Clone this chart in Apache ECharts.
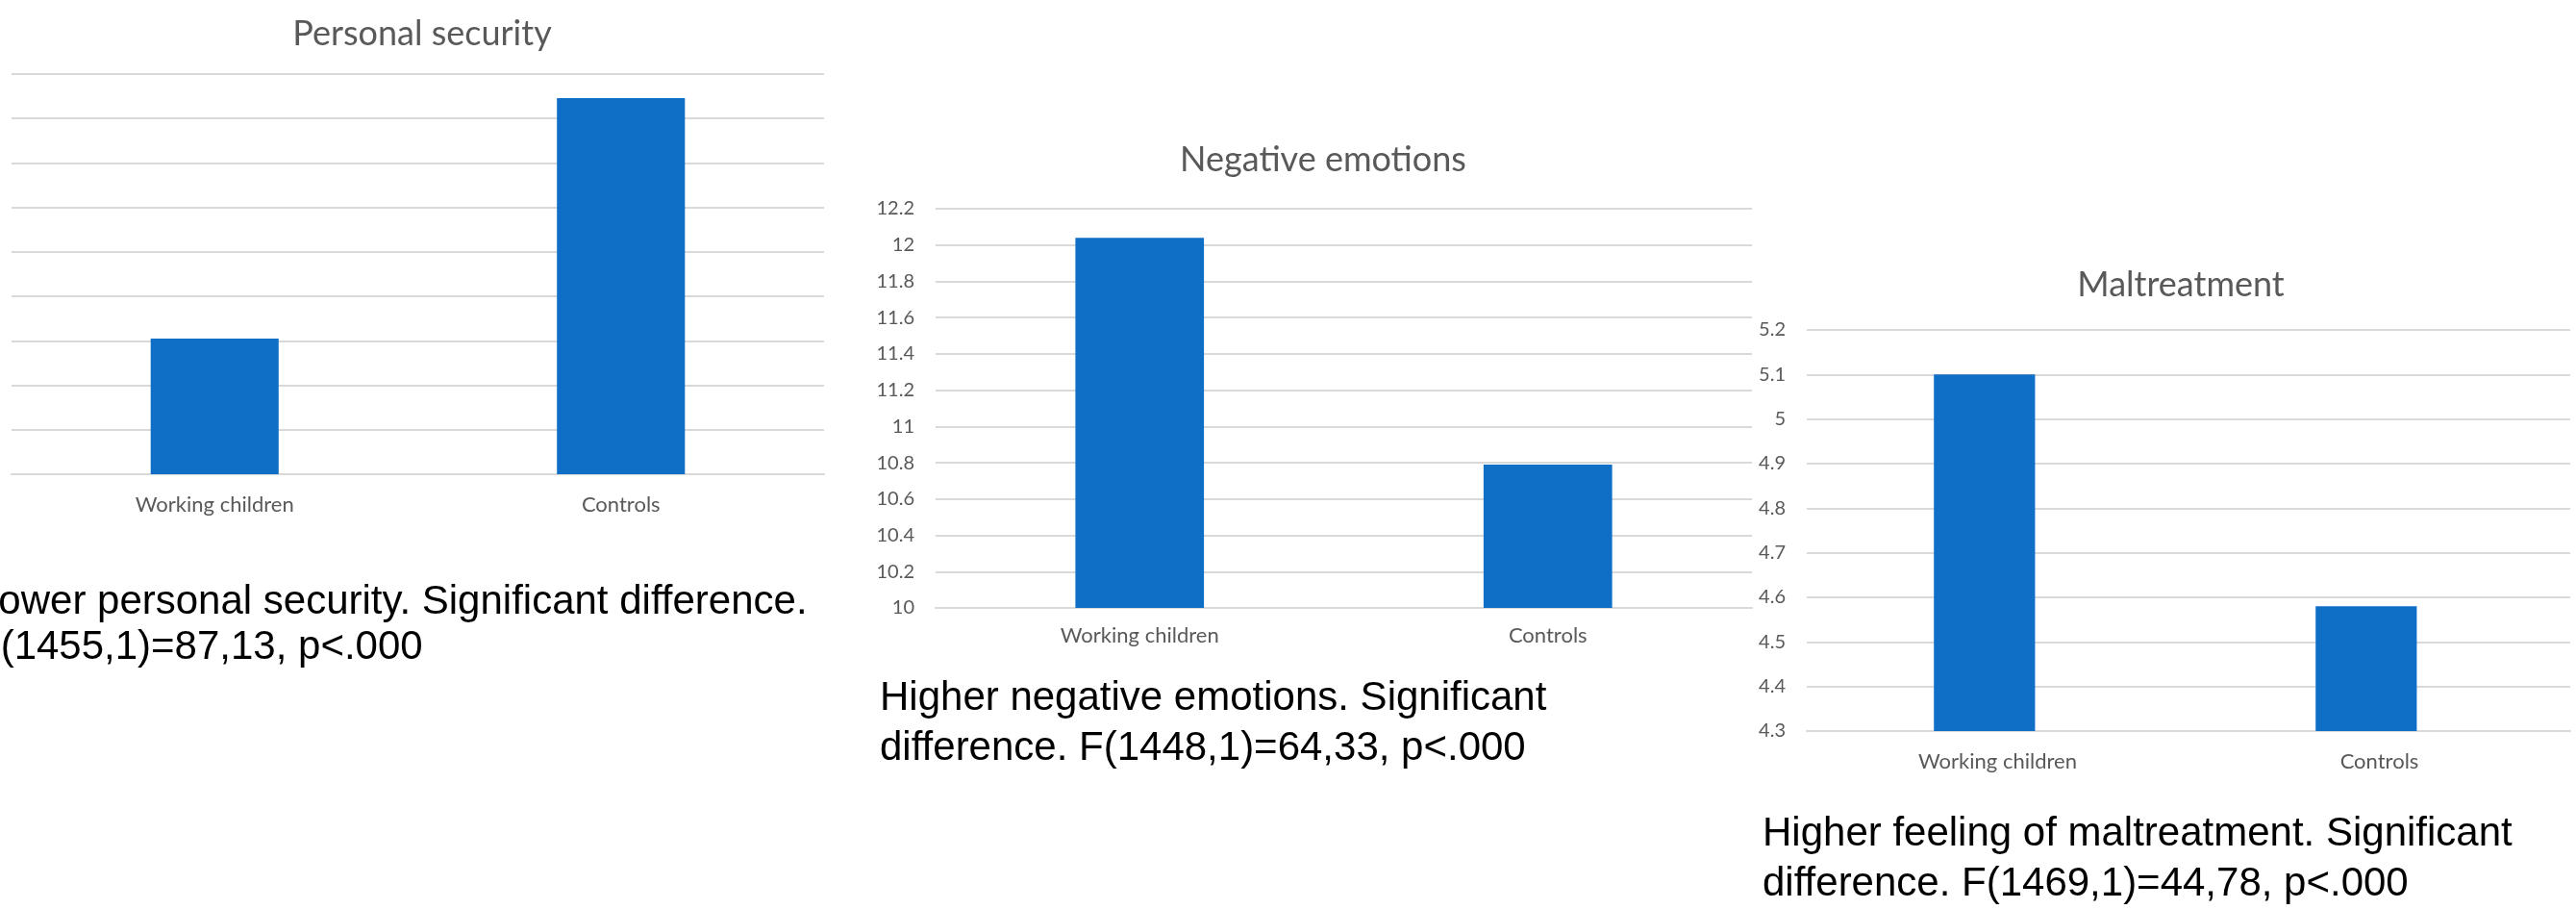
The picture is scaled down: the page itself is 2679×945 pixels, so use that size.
<!DOCTYPE html>
<html>
<head>
<meta charset="utf-8">
<script src="https://cdn.jsdelivr.net/npm/echarts@6/dist/echarts.min.js"></script>
<style>
html,body{margin:0;padding:0;background:#fff;}
#main{width:2679px;height:945px;}
</style>
</head>
<body>
<div id="main"></div>
<script>
// ---- data ----
const categories = ['Working children', 'Controls'];

const titles = ['Personal security', 'Negative emotions', 'Maltreatment'];

const personalSecurity = [3.05, 8.46];      // y-axis labels not visible in reference (cut off)
const negativeEmotions = [12.04, 10.79];
const maltreatment = [5.10, 4.58];

const axis1 = { min: 0, max: 9, interval: 1 };
const axis2 = { min: 10, max: 12.2, interval: 0.2 };
const axis3 = { min: 4.3, max: 5.2, interval: 0.1 };

const captions = [
  ['Lower personal security. Significant difference.', 'F(1455,1)=87,13, p<.000'],
  ['Higher negative emotions. Significant', 'difference. F(1448,1)=64,33, p<.000'],
  ['Higher feeling of maltreatment. Significant', 'difference. F(1469,1)=44,78, p<.000']
];

// ---- chart ----
const BAR = '#0F6FC6';
const GRID = '#D9D9D9';
const TXT = '#595959';
const FONT = 'Lato, "Open Sans", sans-serif';

const chart = echarts.init(document.getElementById('main'), null, {renderer: 'canvas'});

const grids = [
  {left: 12, top: 77, width: 845, height: 416},
  {left: 973, top: 217, width: 849, height: 415},
  {left: 1879, top: 343, width: 794, height: 417}
];

function xAxis(i, margin) {
  return {
    type: 'category', gridIndex: i, data: categories,
    axisLine: {show: true, lineStyle: {color: GRID, width: 2}},
    axisTick: {show: false},
    axisLabel: {color: TXT, fontSize: 22, fontFamily: FONT, margin: margin}
  };
}
function yAxis(i, ax, showLabel) {
  return {
    type: 'value', gridIndex: i, min: ax.min, max: ax.max, interval: ax.interval,
    axisLine: {show: false}, axisTick: {show: false},
    axisLabel: {show: showLabel, color: TXT, fontSize: 20, fontFamily: FONT, margin: 22,
      formatter: v => String(Math.round(v * 10) / 10)},
    splitLine: {show: true, lineStyle: {color: GRID, width: 2}}
  };
}

const titleCenters = [[434, 31], [1371, 162], [2263, 292]];

const captionPos = [[-25, 603], [915, 700], [1833, 841]];
const captionLH = [47, 52, 52];
const graphic = [];
captions.forEach((lines, i) => {
  graphic.push({
    type: 'text', left: captionPos[i][0], top: captionPos[i][1],
    style: {
      text: lines.join('\n'), fill: '#000', font: '42px "Liberation Sans", Arial, sans-serif',
      lineHeight: captionLH[i]
    }
  });
});

const option = {
  animation: false,
  backgroundColor: '#fff',
  title: titles.map((t, i) => ({
    text: t, left: titleCenters[i][0], top: titleCenters[i][1] - 19, textAlign: 'center',
    textStyle: {color: TXT, fontSize: 36, fontWeight: 'normal', fontFamily: FONT}
  })),
  grid: grids,
  xAxis: [xAxis(0, 21), xAxis(1, 18), xAxis(2, 21)],
  yAxis: [yAxis(0, axis1, false), yAxis(1, axis2, true), yAxis(2, axis3, true)],
  series: [
    {type: 'bar', xAxisIndex: 0, yAxisIndex: 0, data: personalSecurity, barWidth: '31.5%', itemStyle: {color: BAR}},
    {type: 'bar', xAxisIndex: 1, yAxisIndex: 1, data: negativeEmotions, barWidth: '31.5%', itemStyle: {color: BAR}},
    {type: 'bar', xAxisIndex: 2, yAxisIndex: 2, data: maltreatment, barWidth: '26.5%', barGap: '-74%', itemStyle: {color: BAR}},
    // empty companion series in the Maltreatment cluster (reference bars sit slightly left of category centre)
    {type: 'bar', xAxisIndex: 2, yAxisIndex: 2, data: [null, null], barWidth: '26.5%', barGap: '-74%', itemStyle: {color: BAR}, silent: true}
  ],
  graphic: graphic
};

chart.setOption(option);
</script>
</body>
</html>
